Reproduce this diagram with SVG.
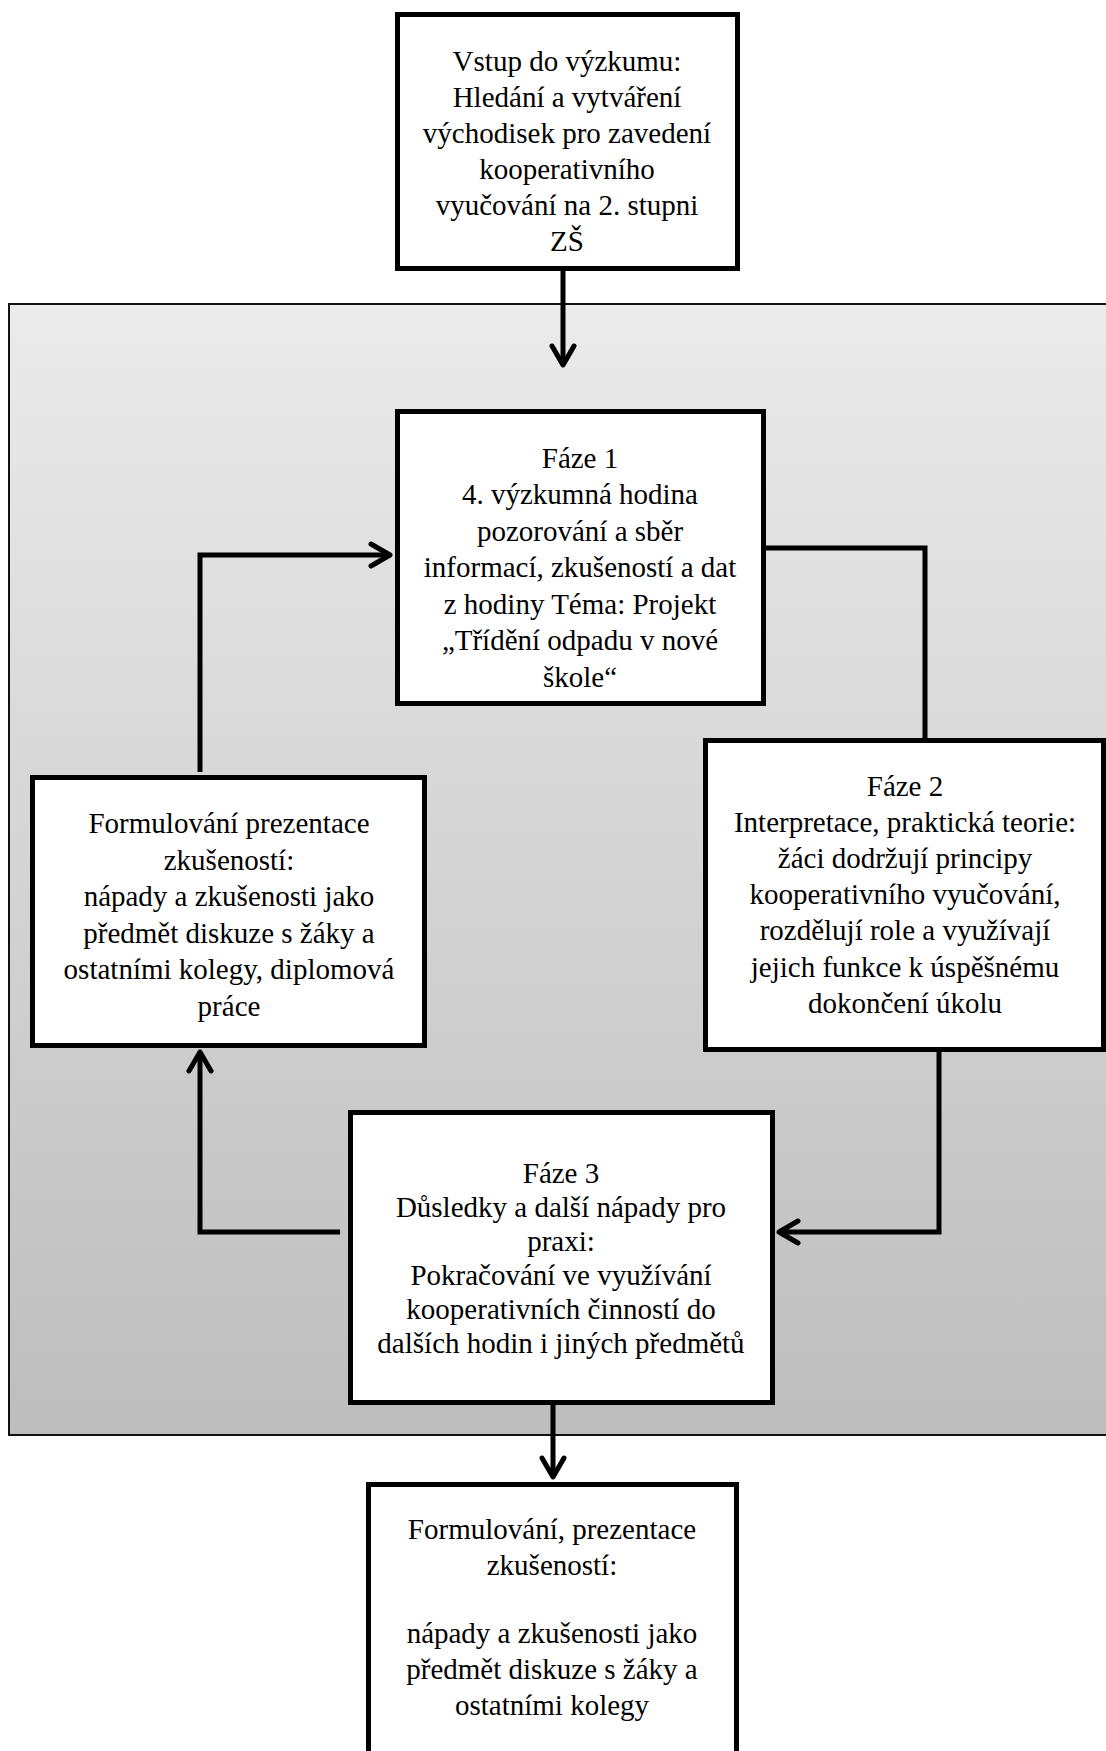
<svg xmlns="http://www.w3.org/2000/svg" width="1106" height="1751" viewBox="0 0 1106 1751">
<style>
.box{fill:#fff;stroke:#000;stroke-width:5}
.t{font-family:"Liberation Serif","Times New Roman",serif;font-size:29px;fill:#000;text-anchor:middle}
.c{fill:none;stroke:#000;stroke-width:5;stroke-linejoin:miter}
</style>
<defs>
<linearGradient id="bg" x1="0" y1="0" x2="0" y2="1">
<stop offset="0" stop-color="#ebebeb"/>
<stop offset="1" stop-color="#bdbdbd"/>
</linearGradient>
<marker id="arr" markerUnits="userSpaceOnUse" markerWidth="40" markerHeight="40" viewBox="-30 -20 40 40" refX="0" refY="0" orient="auto" overflow="visible">
<path d="M-19,-11 L0,0 L-19,11" fill="none" stroke="#000" stroke-width="5" stroke-linecap="round" stroke-linejoin="round"/>
</marker>
</defs>
<rect id="cycle-area" x="9" y="304" width="1110" height="1131" fill="url(#bg)" stroke="#111" stroke-width="2"/>
<g id="connectors">
<path class="c" d="M563,271 V365" marker-end="url(#arr)"/>
<path class="c" d="M766,548 H925 V738"/>
<path class="c" d="M939,1052 V1232 H779" marker-end="url(#arr)"/>
<path class="c" d="M340,1232 H200 V1052" marker-end="url(#arr)"/>
<path class="c" d="M200,772 V555 H390" marker-end="url(#arr)"/>
<path class="c" d="M553,1405 V1477" marker-end="url(#arr)"/>
</g>
<g id="entry">
<rect class="box" x="397.5" y="14.5" width="340" height="254"/>
<text class="t"><tspan x="567" y="70.5">Vstup do výzkumu:</tspan><tspan x="567" y="106.5">Hledání a vytváření</tspan><tspan x="567" y="142.5">východisek pro zavedení</tspan><tspan x="567" y="178.5">kooperativního</tspan><tspan x="567" y="214.5">vyučování na 2. stupni</tspan><tspan x="567" y="250.5">ZŠ</tspan></text>
</g>
<g id="faze1">
<rect class="box" x="397.5" y="411.5" width="366" height="292"/>
<text class="t"><tspan x="580" y="467.5">Fáze 1</tspan><tspan x="580" y="504">4. výzkumná hodina</tspan><tspan x="580" y="540.5">pozorování a sběr</tspan><tspan x="580" y="577">informací, zkušeností a dat</tspan><tspan x="580" y="613.5">z hodiny Téma: Projekt</tspan><tspan x="580" y="650">„Třídění odpadu v nové</tspan><tspan x="580" y="686.5">škole“</tspan></text>
</g>
<g id="faze2">
<rect class="box" x="705.5" y="740.5" width="398" height="309"/>
<text class="t"><tspan x="905" y="795.5">Fáze 2</tspan><tspan x="905" y="831.7">Interpretace, praktická teorie:</tspan><tspan x="905" y="867.9">žáci dodržují principy</tspan><tspan x="905" y="904.1">kooperativního vyučování,</tspan><tspan x="905" y="940.3">rozdělují role a využívají</tspan><tspan x="905" y="976.5">jejich funkce k úspěšnému</tspan><tspan x="905" y="1012.7">dokončení úkolu</tspan></text>
</g>
<g id="faze3">
<rect class="box" x="350.5" y="1112.5" width="422" height="290"/>
<text class="t"><tspan x="561" y="1183">Fáze 3</tspan><tspan x="561" y="1217">Důsledky a další nápady pro</tspan><tspan x="561" y="1251">praxi:</tspan><tspan x="561" y="1285">Pokračování ve využívání</tspan><tspan x="561" y="1319">kooperativních činností do</tspan><tspan x="561" y="1353">dalších hodin i jiných předmětů</tspan></text>
</g>
<g id="formulovani">
<rect class="box" x="32.5" y="777.5" width="392" height="268"/>
<text class="t"><tspan x="229" y="833">Formulování prezentace</tspan><tspan x="229" y="869.5">zkušeností:</tspan><tspan x="229" y="906">nápady a zkušenosti jako</tspan><tspan x="229" y="942.5">předmět diskuze s žáky a</tspan><tspan x="229" y="979">ostatními kolegy, diplomová</tspan><tspan x="229" y="1015.5">práce</tspan></text>
</g>
<g id="vystup">
<rect class="box" x="368.5" y="1484.5" width="368" height="300"/>
<text class="t"><tspan x="552" y="1538.5">Formulování, prezentace</tspan><tspan x="552" y="1575">zkušeností:</tspan><tspan x="552" y="1643">nápady a zkušenosti jako</tspan><tspan x="552" y="1679">předmět diskuze s žáky a</tspan><tspan x="552" y="1715">ostatními kolegy</tspan></text>
</g>
</svg>
